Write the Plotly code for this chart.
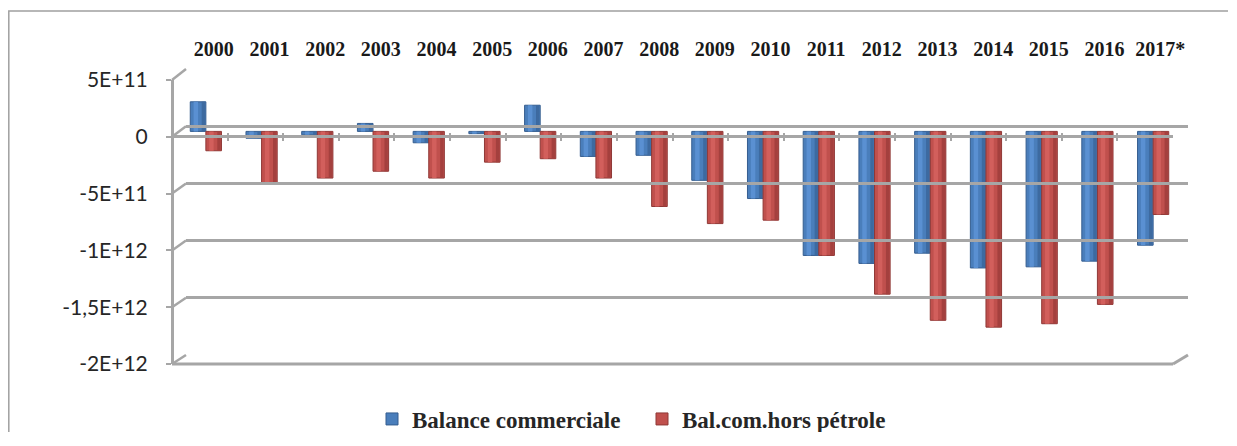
import plotly.graph_objects as go

# ---------------- data ----------------
years = ['2000', '2001', '2002', '2003', '2004', '2005', '2006', '2007', '2008',
         '2009', '2010', '2011', '2012', '2013', '2014', '2015', '2016', '2017*']
balance_commerciale = [2.6e11, -0.6e11, -0.3e11, 0.7e11, -1.0e11, -0.2e11, 2.3e11,
                       -2.2e11, -2.1e11, -4.3e11, -5.9e11, -1.09e12, -1.16e12,
                       -1.07e12, -1.20e12, -1.19e12, -1.14e12, -1.00e12]
bal_hors_petrole = [-1.7e11, -4.5e11, -4.1e11, -3.5e11, -4.1e11, -2.7e11, -2.4e11,
                    -4.1e11, -6.6e11, -8.1e11, -7.8e11, -1.09e12, -1.43e12,
                    -1.66e12, -1.72e12, -1.69e12, -1.52e12, -0.73e12]
series_names = ['Balance commerciale', 'Bal.com.hors pétrole']
tick_values = [5e11, 0, -5e11, -1e12, -1.5e12, -2e12]
tick_labels = ['5E+11', '0', '-5E+11', '-1E+12', '-1,5E+12', '-2E+12']

# ---------------- layout helpers (window pixels -> paper) ----------------
# the page body keeps its default 8px margin, so the figure is made smaller
# than the window (no scrollbars) and window-pixel positions are offset by 8px.
W, H = 1237, 446
OFF = 8
FW, FH = W - 2 * OFF, H - 2 * OFF - 6
def fx(px):
    return (px - OFF) / FW
def fy(py):
    return (FH - (py - OFF)) / FH

YMIN, YMAX = -2e12, 5e11
NCAT = len(years)
XRANGE = [-0.5, NCAT - 0.5]
GRID = '#a6a6a6'

# bar styling: base colour, lighter highlight stripe, darker shaded side
BAR_W = 0.28
SERIES_STYLE = [
    dict(base='#4a7ebb', light='#5a90d2', dark='#3d6aa0', edge='#355d8f', offset=-BAR_W),
    dict(base='#c0504d', light='#d25f5c', dark='#a4403e', edge='#8f3836', offset=0.0),
]

# front plane / back wall geometry (window pixels)
FRONT_X0, FRONT_X1, FRONT_TOP, FRONT_BOT = 172, 1173, 80, 364
BACK_X0, BACK_X1, BACK_TOP, BACK_BOT = 186, 1188, 69, 355

def front_y(v):
    return FRONT_TOP + (YMAX - v) / (YMAX - YMIN) * (FRONT_BOT - FRONT_TOP)
def back_y(v):
    return BACK_TOP + (YMAX - v) / (YMAX - YMIN) * (BACK_BOT - BACK_TOP)

fig = go.Figure()

for name, values, st in zip(series_names, [balance_commerciale, bal_hors_petrole],
                            SERIES_STYLE):
    # main cylinder body
    fig.add_trace(go.Bar(
        x=years, y=values, name=name, offset=st['offset'], width=BAR_W,
        marker=dict(color=st['base'], line=dict(color=st['edge'], width=1)),
        xaxis='x', yaxis='y'))
    # light reflection stripe
    fig.add_trace(go.Bar(
        x=years, y=values, name=name, offset=st['offset'] + 0.06, width=0.08,
        marker=dict(color=st['light'], line=dict(width=0)),
        showlegend=False, hoverinfo='skip', xaxis='x', yaxis='y'))
    # shaded right side
    fig.add_trace(go.Bar(
        x=years, y=values, name=name, offset=st['offset'] + 0.205, width=0.06,
        marker=dict(color=st['dark'], line=dict(width=0)),
        showlegend=False, hoverinfo='skip', xaxis='x', yaxis='y'))

# helper invisible traces establishing the back-wall and front-frame subplots
fig.add_trace(go.Scatter(x=years, y=balance_commerciale, mode='markers',
                         marker=dict(opacity=0), hoverinfo='skip',
                         showlegend=False, xaxis='x2', yaxis='y2'))
fig.add_trace(go.Scatter(x=years, y=balance_commerciale, mode='markers',
                         marker=dict(opacity=0), hoverinfo='skip',
                         showlegend=False, xaxis='x3', yaxis='y3'))

shapes = []
# outer chart border: only the left and top edges are inside the picture
shapes.append(dict(type='path', xref='paper', yref='paper',
                   path='M {:.5f},{:.5f} L {:.5f},{:.5f} L {:.5f},{:.5f}'.format(
                       fx(8.8), fy(H + 20), fx(8.8), fy(11), fx(W - 9), fy(11)),
                   line=dict(color='#a0a0a0', width=1.5), layer='below'))
# side-wall diagonals from front ticks to back-wall gridlines
for v in tick_values:
    shapes.append(dict(type='line', xref='paper', yref='paper',
                       x0=fx(FRONT_X0), y0=fy(front_y(v)),
                       x1=fx(BACK_X0), y1=fy(back_y(v)),
                       line=dict(color=GRID, width=2.5), layer='below'))
# floor: front edge and right diagonal
shapes.append(dict(type='line', xref='paper', yref='paper',
                   x0=fx(FRONT_X0), y0=fy(FRONT_BOT), x1=fx(FRONT_X1), y1=fy(FRONT_BOT),
                   line=dict(color=GRID, width=3), layer='below'))
shapes.append(dict(type='line', xref='paper', yref='paper',
                   x0=fx(FRONT_X1), y0=fy(FRONT_BOT), x1=fx(BACK_X1), y1=fy(BACK_BOT),
                   line=dict(color=GRID, width=3), layer='below'))

fig.update_layout(
    width=FW, height=FH, autosize=False,
    margin=dict(l=0, r=0, t=0, b=0, pad=0, autoexpand=False),
    paper_bgcolor='white', plot_bgcolor='rgba(0,0,0,0)',
    barmode='overlay',
    shapes=shapes,
    showlegend=True,
    legend=dict(orientation='h', x=fx(372), xanchor='left',
                y=fy(419), yanchor='middle',
                font=dict(family='Liberation Serif', size=23, color='#262626',
                          weight='bold'),
                itemwidth=30, entrywidth=225, entrywidthmode='pixels',
                traceorder='normal', bgcolor='rgba(0,0,0,0)'),
    # bars (mid-depth plane)
    xaxis=dict(domain=[fx(178), fx(1181)], type='category', categoryorder='array',
               categoryarray=years, range=XRANGE, showticklabels=False,
               showgrid=False, zeroline=False, showline=False, ticks='',
               anchor='y'),
    yaxis=dict(domain=[fy(359), fy(74.5)], range=[YMIN, YMAX], showgrid=False,
               zeroline=False, showline=False, showticklabels=False, ticks='',
               anchor='x'),
    # back wall: gridlines and category labels on top
    xaxis2=dict(domain=[fx(BACK_X0), fx(BACK_X1)], type='category',
                categoryorder='array', categoryarray=years, range=XRANGE,
                side='top', anchor='y2', showgrid=False, zeroline=False,
                showline=False, ticks='', ticklabelstandoff=8,
                tickfont=dict(family='Liberation Serif', size=20, color='#1a1a1a',
                              weight='bold')),
    yaxis2=dict(domain=[fy(BACK_BOT), fy(BACK_TOP)], range=[YMIN, YMAX],
                tickvals=tick_values, showgrid=True, gridcolor=GRID, gridwidth=3,
                zeroline=False, showline=False, showticklabels=False, ticks='',
                anchor='x2'),
    # front frame: vertical axis with labels, zero axis with category ticks
    xaxis3=dict(domain=[fx(FRONT_X0), fx(FRONT_X1)], type='category',
                categoryorder='array', categoryarray=years, range=XRANGE,
                anchor='free', position=fy(132), showline=False, showgrid=False,
                zeroline=False, ticks='outside', ticklen=8, tickwidth=1.5,
                tickcolor=GRID, tickson='boundaries', showticklabels=False),
    yaxis3=dict(domain=[fy(FRONT_BOT), fy(FRONT_TOP)], range=[YMIN, YMAX],
                anchor='free', position=fx(FRONT_X0), showline=True,
                linecolor=GRID, linewidth=3, showgrid=False,
                zeroline=True, zerolinecolor=GRID, zerolinewidth=3,
                ticks='outside', ticklen=5, tickwidth=1.5, tickcolor=GRID,
                tickvals=tick_values, ticktext=tick_labels,
                ticklabelstandoff=14,
                tickfont=dict(family='Lato', size=21, color='#262626')),
)

fig.write_html('out.html')
